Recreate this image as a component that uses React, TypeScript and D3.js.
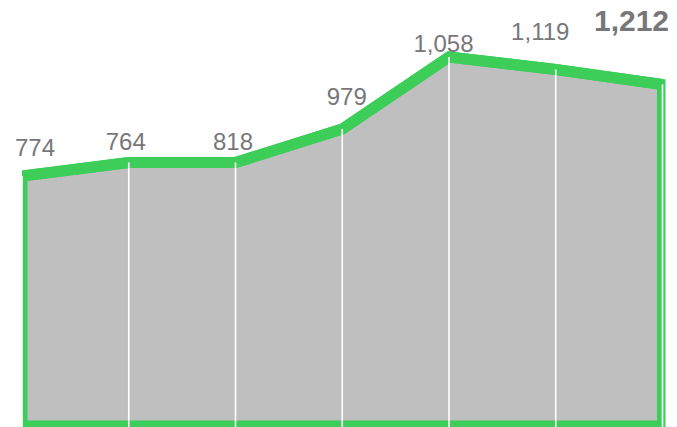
import React from 'react';
import { scalePoint, scaleLinear, area, line, format } from 'd3';

// categories along x (not shown as ticks in the chart)
const periods = ['P1', 'P2', 'P3', 'P4', 'P5', 'P6', 'P7'];
// heights of the green line
const lineValues = [763, 804, 804, 906, 1126, 1088, 1042];
// the numbers printed above each point
const labelValues = [774, 764, 818, 979, 1058, 1119, 1212];

// label nudges relative to each point (layout only)
const labelDx = [13, -3, -2.5, 4.5, -5.5, -15.5, -31];
const labelDy = [-20, -13, -13, -24, -5.5, -29.5, -54];

const W = 677;
const H = 427;
const GREEN = '#3dce59';
const FILL = '#bfbfbf';
const TEXT = '#77777a';

const App = () => {
  const x = scalePoint<string>().domain(periods).range([22, 662.5]);
  const y = scaleLinear().domain([0, 1300]).range([426, 0]);
  const fmt = format(',');

  const pts = periods.map((p, i) => ({ p, v: lineValues[i] }));

  const areaGen = area<{ p: string; v: number }>()
    .x(d => x(d.p) as number)
    .y0(y(0))
    .y1(d => y(d.v));

  const lineGen = line<{ p: string; v: number }>()
    .x(d => x(d.p) as number)
    .y(d => y(d.v));

  const last = periods.length - 1;

  return (
    <svg
      width={W}
      height={H}
      style={{ position: 'absolute', left: 0, top: 0, background: '#fff' }}
    >
      <defs>
        <clipPath id="plot-clip">
          <rect x={22} y={0} width={643.5} height={H} />
        </clipPath>
      </defs>
      <g clipPath="url(#plot-clip)">
        <path
          d={areaGen(pts) + 'Z'}
          fill={FILL}
          stroke={GREEN}
          strokeWidth={11}
          strokeLinejoin="miter"
        />
        <path d={lineGen(pts) || ''} fill="none" stroke={GREEN} strokeWidth={11} />
        {pts.map(d => (
          <line
            key={d.p}
            x1={x(d.p)}
            x2={x(d.p)}
            y1={y(d.v)}
            y2={H}
            stroke="#fff"
            strokeWidth={1.6}
          />
        ))}
      </g>
      {labelValues.map((v, i) => (
        <text
          key={periods[i]}
          x={(x(periods[i]) as number) + labelDx[i]}
          y={y(lineValues[i]) + labelDy[i]}
          textAnchor="middle"
          fontFamily="'Liberation Sans', Arial, sans-serif"
          fontSize={i === last ? 30 : 24}
          fontWeight={i === last ? 'bold' : 'normal'}
          fill={TEXT}
        >
          {fmt(v)}
        </text>
      ))}
    </svg>
  );
};

export default App;
